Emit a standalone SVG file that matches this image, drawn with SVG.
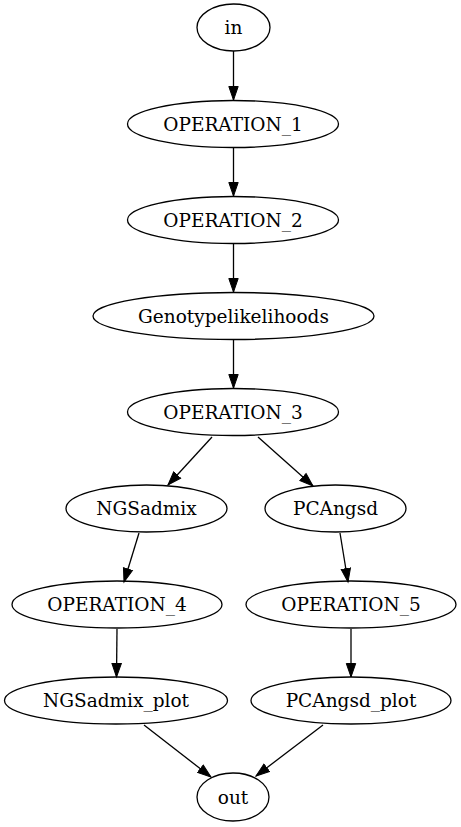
<svg xmlns="http://www.w3.org/2000/svg" width="461" height="827" viewBox="0 0 461 827">
<style>
ellipse{fill:none;stroke:#000;stroke-width:1.3}
text{font-family:"DejaVu Serif",serif;font-size:18.5px;text-anchor:middle;fill:#000}
.e line{stroke:#000;stroke-width:1.3}
</style>
<defs>
<marker id="a" markerUnits="userSpaceOnUse" markerWidth="16" markerHeight="12" refX="14" refY="5" orient="auto" viewBox="0 0 16 10">
<path d="M0.5,0.3 L14,5 L0.5,9.7 Z" fill="#000" stroke="#000" stroke-width="1"/>
</marker>
</defs>
<rect width="461" height="827" fill="#fff"/>
<g class="e" id="edges">
<line x1="233.5" y1="51" x2="233.5" y2="100" marker-end="url(#a)"/>
<line x1="233.5" y1="147" x2="233.5" y2="196" marker-end="url(#a)"/>
<line x1="233.5" y1="243" x2="233.5" y2="292" marker-end="url(#a)"/>
<line x1="233.5" y1="339" x2="233.5" y2="388" marker-end="url(#a)"/>
<line x1="212" y1="437" x2="168" y2="485" marker-end="url(#a)"/>
<line x1="258" y1="437" x2="313" y2="486" marker-end="url(#a)"/>
<line x1="139" y1="533" x2="124" y2="582" marker-end="url(#a)"/>
<line x1="340" y1="533" x2="348" y2="582" marker-end="url(#a)"/>
<line x1="117" y1="629" x2="116.5" y2="677" marker-end="url(#a)"/>
<line x1="351" y1="629" x2="351" y2="677" marker-end="url(#a)"/>
<line x1="144" y1="725" x2="211" y2="777" marker-end="url(#a)"/>
<line x1="323" y1="725" x2="256" y2="776" marker-end="url(#a)"/>
</g>
<g id="in"><ellipse cx="233.5" cy="27.5" rx="36.5" ry="23.5"/><text x="233.5" y="34">in</text></g>
<g id="OPERATION_1"><ellipse cx="233" cy="124" rx="105.5" ry="23.5"/><text x="233" y="130.5">OPERATION_1</text></g>
<g id="OPERATION_2"><ellipse cx="233" cy="220" rx="105.5" ry="23.5"/><text x="233" y="226.5">OPERATION_2</text></g>
<g id="Genotypelikelihoods"><ellipse cx="233.5" cy="316" rx="140.5" ry="23.5"/><text x="233.5" y="322.5">Genotypelikelihoods</text></g>
<g id="OPERATION_3"><ellipse cx="233" cy="412" rx="105.5" ry="23.5"/><text x="233" y="418.5">OPERATION_3</text></g>
<g id="NGSadmix"><ellipse cx="146.5" cy="508.5" rx="80.5" ry="23.5"/><text x="146.5" y="515">NGSadmix</text></g>
<g id="PCAngsd"><ellipse cx="335.5" cy="508.5" rx="70.5" ry="23.5"/><text x="335.5" y="515">PCAngsd</text></g>
<g id="OPERATION_4"><ellipse cx="117" cy="604.5" rx="105" ry="23.5"/><text x="117" y="611">OPERATION_4</text></g>
<g id="OPERATION_5"><ellipse cx="351" cy="604.5" rx="105" ry="23.5"/><text x="351" y="611">OPERATION_5</text></g>
<g id="NGSadmix_plot"><ellipse cx="116" cy="700.5" rx="111.5" ry="23.5"/><text x="116" y="707">NGSadmix_plot</text></g>
<g id="PCAngsd_plot"><ellipse cx="351" cy="700.5" rx="100" ry="23.5"/><text x="351" y="707">PCAngsd_plot</text></g>
<g id="out"><ellipse cx="233" cy="797" rx="36" ry="24"/><text x="233" y="803.5">out</text></g>
</svg>
